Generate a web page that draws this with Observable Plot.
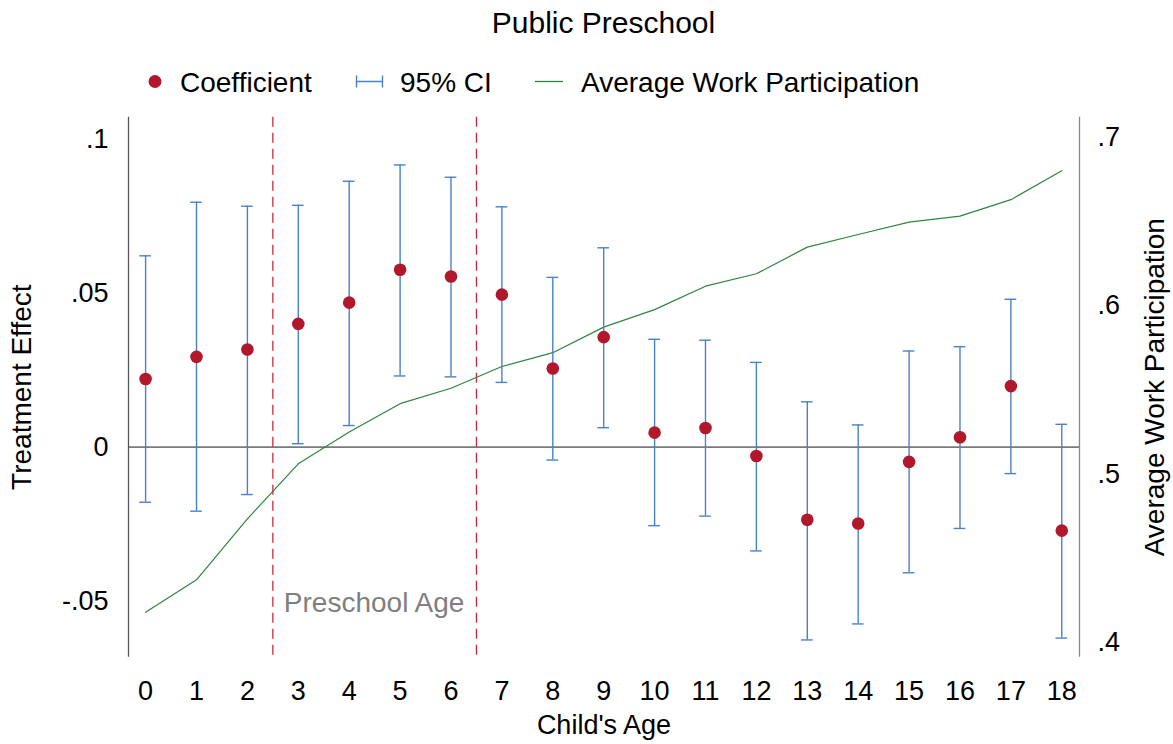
<!DOCTYPE html>
<html>
<head>
<meta charset="utf-8">
<script src="https://cdn.jsdelivr.net/npm/d3@7"></script>
<script src="https://cdn.jsdelivr.net/npm/@observablehq/plot@0.6"></script>
<style>
  body { margin: 0; background: #fff; font-family: "Liberation Sans", Arial, sans-serif; }
  #header { display: block; }
  #chart svg { display: block; }
</style>
</head>
<body>
<svg id="header" width="1173" height="100"></svg>
<div id="chart"></div>
<script>
// values
const ages = [0, 1, 2, 3, 4, 5, 6, 7, 8, 9, 10, 11, 12, 13, 14, 15, 16, 17, 18];
const coef = [0.0221, 0.0293, 0.0317, 0.0400, 0.0469, 0.0576, 0.0554, 0.0495, 0.0255, 0.0357,
  0.0047, 0.0062, -0.0029, -0.0236, -0.0248, -0.0048, 0.0032, 0.0198, -0.0271];
const ciLow = [-0.0179, -0.0208, -0.0154, 0.0011, 0.0070, 0.0231, 0.0228, 0.0210, -0.0042, 0.0063,
  -0.0255, -0.0224, -0.0337, -0.0626, -0.0574, -0.0408, -0.0264, -0.0086, -0.0620];
const ciHigh = [0.0621, 0.0795, 0.0782, 0.0785, 0.0863, 0.0916, 0.0876, 0.0780, 0.0551, 0.0647,
  0.0350, 0.0347, 0.0275, 0.0147, 0.0072, 0.0312, 0.0326, 0.0480, 0.0074];
const work = [0.4178, 0.4371, 0.4733, 0.5060, 0.5249, 0.5417, 0.5509, 0.5638, 0.5720, 0.5872,
  0.5976, 0.6115, 0.6189, 0.6347, 0.6422, 0.6496, 0.6531, 0.6629, 0.6801];
const preschoolBounds = [2.5, 6.5];
const leftTicks = [-0.05, 0, 0.05, 0.1];
const rightTicks = [0.4, 0.5, 0.6, 0.7];

const red = "#b2182b";
const blue = "#4a82c8";
const green = "#2e8540";
const font = "Liberation Sans, Arial, sans-serif";

const xDomain = [-0.336, 18.348];
const yDomain = [-0.0682, 0.1071];
const rDomain = [0.3911, 0.7119];
// right axis values are drawn on the left scale
const toLeft = d3.scaleLinear().domain(rDomain).range(yDomain);

const rows = ages.map((a, i) => ({age: a, coef: coef[i], lo: ciLow[i], hi: ciHigh[i], work: toLeft(work[i])}));
const cap = 0.115;

const fmtL = d => d === 0 ? "0" : String(d).replace("0.", ".");
const fmtR = d => String(Math.round(toLeft.invert(d) * 10) / 10).replace(/^0\./, ".");

// header: title + legend
const hdr = d3.select("#header").style("font-family", font);
hdr.append("text").attr("x", 603.5).attr("y", 33).attr("text-anchor", "middle")
  .attr("font-size", 30).text("Public Preschool");
const ly = 81.5;
hdr.append("circle").attr("cx", 155).attr("cy", ly).attr("r", 6.5).attr("fill", red);
hdr.append("text").attr("x", 180).attr("y", ly + 10).attr("font-size", 28).text("Coefficient");
hdr.append("path").attr("d", `M356,${ly}H383M356.5,${ly - 6}V${ly + 6}M382.5,${ly - 6}V${ly + 6}`)
  .attr("stroke", blue).attr("stroke-width", 1.4).attr("fill", "none");
hdr.append("text").attr("x", 400).attr("y", ly + 10).attr("font-size", 28).text("95% CI");
hdr.append("path").attr("d", `M535,${ly}H563`).attr("stroke", green).attr("stroke-width", 1.3);
hdr.append("text").attr("x", 581).attr("y", ly + 10).attr("font-size", 28).text("Average Work Participation");

const chart = Plot.plot({
  width: 1173,
  height: 644,
  marginTop: 16.7,
  marginBottom: 87.3,
  marginLeft: 128,
  marginRight: 94,
  style: {fontFamily: font, fontSize: "27px", color: "black", background: "white", overflow: "visible"},
  x: {domain: xDomain},
  y: {domain: yDomain},
  marks: [
    Plot.ruleY([0], {stroke: "#7a7a7a", strokeWidth: 1.6}),
    Plot.ruleX(preschoolBounds, {stroke: "#d0263c", strokeWidth: 1.3, strokeDasharray: "10,6"}),
    Plot.text(["Preschool Age"], {x: preschoolBounds[0], y: -0.0505, dx: 11, textAnchor: "start",
      fill: "#7f7f7f", fontSize: 28}),
    Plot.ruleX([xDomain[0]], {stroke: "#555", strokeWidth: 1.3}),
    Plot.ruleX([xDomain[1]], {stroke: "#888", strokeWidth: 1.3}),
    Plot.line(rows, {x: "age", y: "work", stroke: green, strokeWidth: 1.2}),
    Plot.ruleX(rows, {x: "age", y1: "lo", y2: "hi", stroke: blue, strokeWidth: 1.4}),
    Plot.ruleY(rows, {y: "lo", x1: d => d.age - cap, x2: d => d.age + cap, stroke: blue, strokeWidth: 1.4}),
    Plot.ruleY(rows, {y: "hi", x1: d => d.age - cap, x2: d => d.age + cap, stroke: blue, strokeWidth: 1.4}),
    Plot.dot(rows, {x: "age", y: "coef", r: 6.3, fill: red}),
    Plot.axisY({anchor: "left", ticks: leftTicks, tickSize: 0, tickPadding: 20, tickFormat: fmtL, label: null}),
    Plot.axisY({anchor: "right", ticks: rightTicks.map(toLeft), tickSize: 0, tickPadding: 18, tickFormat: fmtR, label: null}),
    Plot.axisX({ticks: ages, tickSize: 0, tickPadding: 24, tickFormat: d => String(d), label: null}),
    Plot.text(["Child's Age"], {frameAnchor: "bottom", dy: 68, fontSize: 27, textAnchor: "middle", lineAnchor: "middle"}),
    Plot.text(["Treatment Effect"], {frameAnchor: "left", dx: -106, rotate: -90, fontSize: 28,
      textAnchor: "middle", lineAnchor: "middle"}),
    Plot.text(["Average Work Participation"], {frameAnchor: "right", dx: 76, rotate: -90, fontSize: 28,
      textAnchor: "middle", lineAnchor: "middle"})
  ]
});
document.getElementById("chart").appendChild(chart);
</script>
</body>
</html>
